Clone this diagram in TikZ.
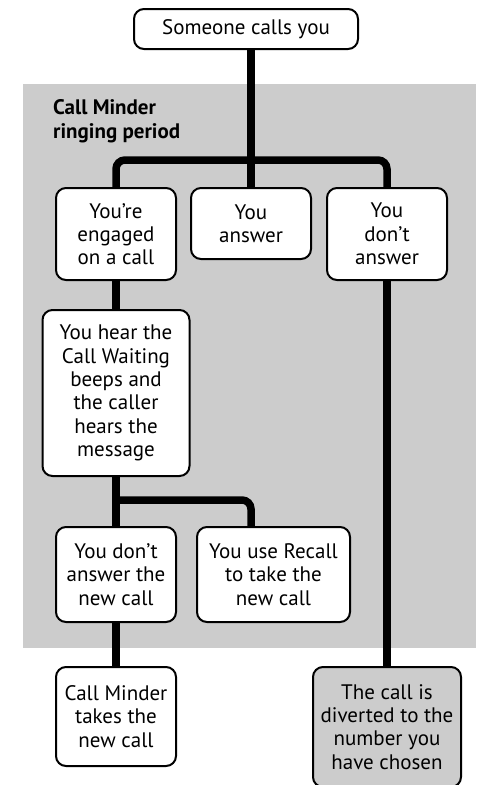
\documentclass[tikz,border=0pt]{standalone}
\usepackage{fontspec}
\setmainfont{PT Sans}
\usetikzlibrary{backgrounds}
\definecolor{zone}{HTML}{CCCCCC}
\tikzset{
  box/.style={draw=black, line width=2pt, rounded corners=10pt, fill=white,
    align=center, inner sep=0pt, font=\fontsize{21}{23.3}\selectfont},
  link/.style={line width=7.5pt, rounded corners=9pt},
}
\begin{document}
\begin{tikzpicture}[x=1pt,y=-1pt]
\useasboundingbox (0,0) rectangle (482,785);
\node[box, minimum width=224pt, minimum height=40pt] (top) at (246,29) {Someone calls you};
\node[box, minimum width=120pt, minimum height=92pt] (eng) at (116,234) {You’re\\engaged\\on a call};
\node[box, minimum width=120pt, minimum height=71pt] (ans) at (251,223.5) {You\\answer};
\node[box, minimum width=120pt, minimum height=92pt] (dont) at (387,234) {You\\don’t\\answer};
\node[box, minimum width=147pt, minimum height=166pt] (hear) at (116,393) {You hear the\\Call Waiting\\beeps and\\the caller\\hears the\\message};
\node[box, minimum width=120pt, minimum height=95pt] (dnc) at (116,574.5) {You don’t\\answer the\\new call};
\node[box, minimum width=153pt, minimum height=95pt] (rec) at (273.5,574.5) {You use Recall\\to take the\\new call};
\node[box, minimum width=120pt, minimum height=99pt] (cmt) at (116,716.5) {Call Minder\\takes the\\new call};
\node[box, fill=zone, minimum width=148pt, minimum height=120pt] (div) at (387,727) {The call is\\diverted to the\\number you\\have chosen};
\node[anchor=base west, align=left, inner sep=0pt, font=\fontsize{21}{23.3}\selectfont\bfseries] (lbl) at (53,138) {Call Minder\\ringing period};
\coordinate (j1) at (251,160);
\coordinate (j2) at (116,500);
\begin{scope}[on background layer]
  \fill[zone] (23,84) rectangle (476,648);
  \draw[link] (ans.north |- top.south) -- (ans.north);
  \draw[link] (eng.north) |- (j1) -| (dont.north);
  \draw[link] (eng.south) -- (hear.north);
  \draw[link] (dont.south) -- (div.north);
  \draw[link] (hear.south) -- (dnc.north);
  \draw[link] (j2) -| ([xshift=-22.5pt]rec.north);
  \draw[link] (dnc.south) -- (cmt.north);
\end{scope}
\end{tikzpicture}
\end{document}
